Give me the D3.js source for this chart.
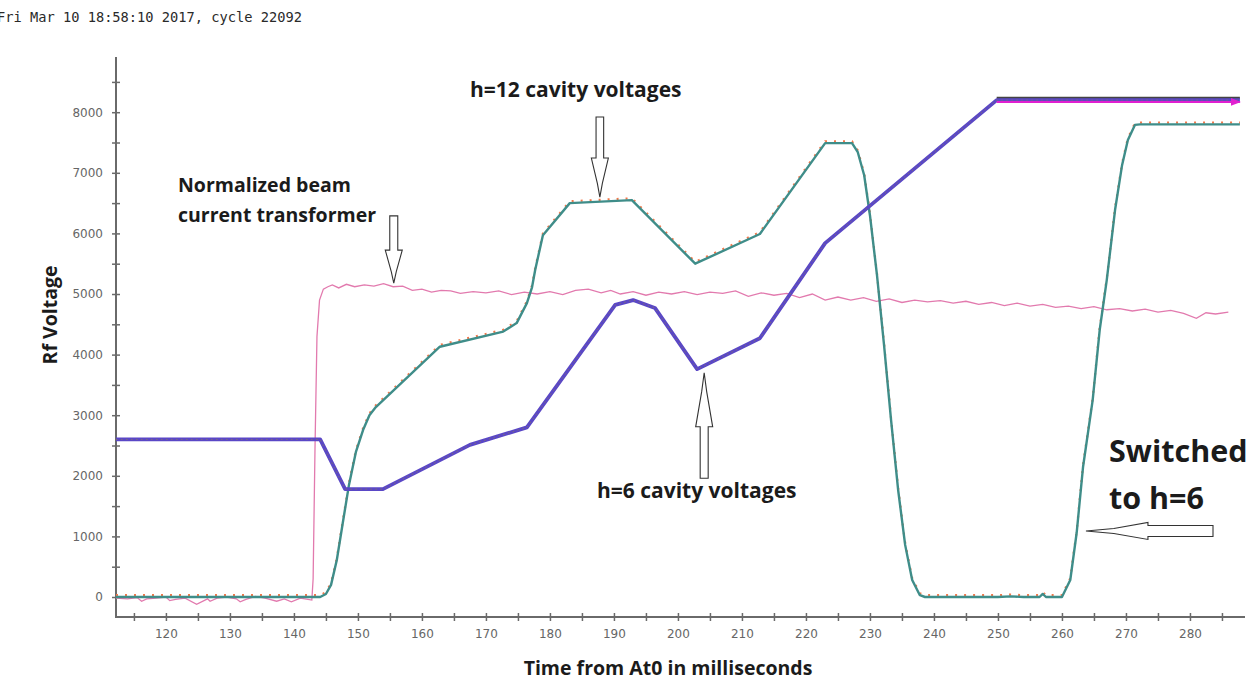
<!DOCTYPE html>
<html><head><meta charset="utf-8">
<script src="https://cdn.jsdelivr.net/npm/d3@7"></script>
<style>
html,body{margin:0;padding:0;background:#fff;}
svg{display:block;}
</style></head>
<body>
<svg id="chart" width="1260" height="681"></svg>
<script>
// ---- data ----
const headerText = "Fri Mar 10 18:58:10 2017, cycle 22092";
const xTickLabels = [120,130,140,150,160,170,180,190,200,210,220,230,240,250,260,270,280];
const yTickLabels = [0,1000,2000,3000,4000,5000,6000,7000,8000];

// h=6 cavity voltage (V) vs time (ms)
const h6Time  = [112.2,144.1,148.0,153.9,167.5,176.4,190.2,193.0,196.4,203.0,212.8,223.0,249.8,287.8];
const h6Volts = [2600, 2600, 1780, 1780, 2510, 2800, 4820, 4900, 4770, 3760, 4270, 5840, 8200, 8200];

// h=12 cavity voltage (V) vs time (ms)
const h12Time  = [112.2,144.1,145.0,145.8,146.7,147.6,148.6,149.7,150.8,151.8,152.8,162.8,172.7,174.8,176.4,177.2,177.7,178.9,183.1,192.8,202.7,212.8,223.0,227.2,228.1,229.1,230.0,231.1,232.2,233.3,234.4,235.5,236.6,237.8,238.6,250.0,252.0,254.0,256.5,257.0,257.5,260.0,261.3,262.3,263.3,264.8,265.9,267.0,268.3,269.4,270.3,271.4,272.2,287.8];
const h12Volts = [0,0,50,200,610,1200,1850,2400,2755,3000,3135,4130,4380,4520,4850,5110,5400,5970,6500,6550,5500,5990,7490,7490,7340,6960,6300,5310,4160,2920,1770,860,280,30,0,0,10,0,0,50,0,0,280,1060,2150,3250,4410,5230,6390,7130,7540,7790,7800,7800];

// normalized beam current transformer signal
const beamTime  = [112.2,114,115.5,116.2,117,118.5,120,120.6,121.5,123,124.8,126.5,126.9,128,129.5,131,131.6,132.5,134,135.5,137.3,138.5,139.6,141,142.2,142.8,143.0,143.3,143.6,144.0,144.6,145.3,146,147,148.2,149.5,151,152.5,154,155.5,157,158.5,160,161.5,163,164.5,166,168,170,172,174,176,178,180,182,184,186,188,189.5,191,193,195,197,199,201,203,205,207,209,211,213,215,217,219,221,223,225,227,229,231,233,235,237,239,241,243,245,247,249,251,253,255,257,259,261,263,265,267,269,271,273,275,277,279,281,282.5,284,286,287.8];
const beamValue = [-20,-30,-10,-70,-30,-20,0,-60,-40,-20,-120,-30,-70,-20,0,-30,-80,-40,10,-20,-70,-30,-80,-20,-40,-50,300,2500,4300,4900,5080,5120,5150,5100,5160,5120,5150,5130,5170,5120,5130,5060,5080,5030,5060,5050,5010,5040,5020,5050,4990,5030,5000,5040,4990,5060,5080,5020,5060,5000,5040,4980,5030,5000,5040,4990,5030,5010,5050,4960,5020,4980,5010,4940,5000,4900,4950,4900,4940,4880,4920,4860,4900,4870,4890,4850,4880,4830,4860,4810,4850,4800,4830,4780,4800,4760,4790,4740,4760,4720,4750,4700,4730,4680,4600,4690,4670,4700];

// flat-top program and demand traces
const programTime  = [249.8,287.8];
const programVolts = [8235,8235];
const demandTime   = [249.8,287.8];
const demandVolts  = [8170,8170];

// ---- layout ----
const svg = d3.select("#chart");
const x = d3.scaleLinear().domain([112.2, 288.6]).range([116, 1245]);
const y = d3.scaleLinear().domain([-330, 8911]).range([617, 57]);

const pts = (ts, vs) => ts.map((t, i) => ({t, v: vs[i]}));
const line = d3.line().x(d => x(d.t)).y(d => y(d.v));

// header
svg.append("text").attr("x", -3).attr("y", 22)
  .attr("font-family", "DejaVu Sans Mono").attr("font-size", 13.7)
  .attr("fill", "#2a2a2a").text(headerText);

// axes
const axisColor = "#6a6a6a";
const yMinor = d3.range(0, 9000, 500);
const yAxis = d3.axisLeft(y).tickValues(yMinor).tickSize(4).tickPadding(9)
  .tickFormat(v => yTickLabels.includes(v) ? v : "");
const gy = svg.append("g").attr("transform", "translate(116,0)").call(yAxis);

const xMinor = d3.range(115, 290, 5);
const xAxis = d3.axisBottom(x).tickValues(xMinor).tickSize(4).tickPadding(8)
  .tickFormat(v => xTickLabels.includes(v) ? v : "");
const gx = svg.append("g").attr("transform", "translate(0,617)").call(xAxis);

[gx, gy].forEach(g => {
  g.select(".domain").remove();
  g.selectAll(".tick line").attr("stroke", axisColor).attr("stroke-width", 1.5);
  g.selectAll(".tick text").attr("fill", "#666").attr("font-family", "DejaVu Sans").attr("font-size", 12);
});
gy.selectAll(".tick line").attr("x1", 4);
gx.selectAll(".tick line").attr("y1", -4);
svg.append("line").attr("x1", 116).attr("x2", 116).attr("y1", 57).attr("y2", 618)
  .attr("stroke", axisColor).attr("stroke-width", 2);
svg.append("line").attr("x1", 115).attr("x2", 1245).attr("y1", 617).attr("y2", 617)
  .attr("stroke", axisColor).attr("stroke-width", 2);

// traces
const plot = svg.append("g");
plot.append("path").datum(pts(beamTime, beamValue)).attr("d", line)
  .attr("fill", "none").attr("stroke", "#e27aae").attr("stroke-width", 1.3);

plot.append("path").datum(pts(h12Time, h12Volts)).attr("d", line)
  .attr("transform", "translate(0,-1.8)")
  .attr("fill", "none").attr("stroke", "#f2784a").attr("stroke-width", 2.2)
  .attr("stroke-dasharray", "2,7");
plot.append("path").datum(pts(h12Time, h12Volts)).attr("d", line)
  .attr("fill", "none").attr("stroke", "#3f8d89").attr("stroke-width", 2.4)
  .attr("stroke-linejoin", "round");

plot.append("path").datum(pts(programTime, programVolts)).attr("d", line)
  .attr("fill", "none").attr("stroke", "#444").attr("stroke-width", 2.5);

plot.append("path").datum(pts(h6Time, h6Volts)).attr("d", line)
  .attr("fill", "none").attr("stroke", "#5a47c6").attr("stroke-width", 3.8)
  .attr("stroke-linejoin", "round");
plot.append("path").datum(pts(h6Time, h6Volts)).attr("d", line)
  .attr("fill", "none").attr("stroke", "#8a7d55").attr("stroke-width", 1)
  .attr("stroke-dasharray", "1.5,3.5").attr("opacity", 0.7);

svg.append("defs").append("marker").attr("id", "tipArrow")
  .attr("viewBox", "0 0 10 10").attr("refX", 9).attr("refY", 5)
  .attr("markerWidth", 5).attr("markerHeight", 5).attr("orient", "auto")
  .append("path").attr("d", "M0,1 L10,5 L0,9 z").attr("fill", "#e020d0");
plot.append("path").datum(pts(demandTime, demandVolts)).attr("d", line)
  .attr("fill", "none").attr("stroke", "#e020d0").attr("stroke-width", 2)
  .attr("marker-end", "url(#tipArrow)");

// ---- annotations ----
const ann = svg.append("g").attr("fill", "#fff").attr("stroke", "#333").attr("stroke-width", 1.1);
function vArrow(cx, yTail, yTip, shaftHalf, headHalf, headLen) {
  const dir = yTip > yTail ? 1 : -1;
  const yh = yTip - dir * headLen;
  const p = [[cx - shaftHalf, yTail], [cx + shaftHalf, yTail], [cx + shaftHalf, yh], [cx + headHalf, yh],
             [cx + 2.5, yTip - dir * headLen * 0.35], [cx, yTip], [cx - 2.5, yTip - dir * headLen * 0.35],
             [cx - headHalf, yh], [cx - shaftHalf, yh]];
  ann.append("polygon").attr("points", p.map(d => d.join(",")).join(" "));
}
function hArrow(xTail, xTip, cy, shaftHalf, headHalf, headLen) {
  const xh = xTip + headLen;
  const p = [[xTail, cy - shaftHalf], [xTail, cy + shaftHalf], [xh, cy + shaftHalf], [xh, cy + headHalf],
             [xTip + headLen * 0.45, cy + 2.5], [xTip, cy], [xTip + headLen * 0.45, cy - 2.5],
             [xh, cy - headHalf], [xh, cy - shaftHalf]];
  ann.append("polygon").attr("points", p.map(d => d.join(",")).join(" "));
}
vArrow(x(187.8), y(7920), y(6600), 3.8, 8.5, 39);
vArrow(x(155.6), y(6290), y(5180), 4, 8.5, 33);
vArrow(x(204.1), y(1960), y(3700), 4, 8.5, 54);
hArrow(x(283.6), x(263.75), y(1090), 5.5, 8.5, 62);

const label = (txt, xx, yy, size, anchor = "start") =>
  svg.append("text").attr("x", xx).attr("y", yy).attr("font-family", "Open Sans")
    .attr("font-weight", "bold").attr("font-size", size).attr("fill", "#1b1b1b")
    .attr("text-anchor", anchor).text(txt);

label("h=12 cavity voltages", 470, 97, 21);
label("Normalized beam", 178, 192, 19.5);
label("current transformer", 178, 222, 19.5);
label("h=6 cavity voltages", 597, 498, 21);
label("Switched", 1109, 462, 30.5);
label("to h=6", 1109, 509, 30.5);
label("Time from At0 in milliseconds", 668, 675, 19.5, "middle");
svg.append("text").attr("transform", "translate(57,315) rotate(-90)")
  .attr("font-family", "Open Sans").attr("font-weight", "bold").attr("font-size", 19.5)
  .attr("fill", "#1b1b1b").attr("text-anchor", "middle").text("Rf Voltage");
</script>
</body></html>
